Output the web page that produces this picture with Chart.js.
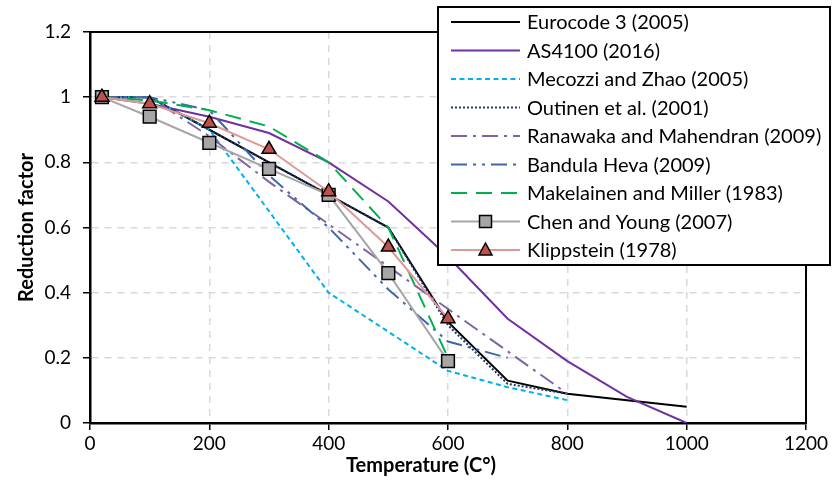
<!DOCTYPE html>
<html>
<head>
<meta charset="utf-8">
<script src="https://cdn.jsdelivr.net/npm/chart.js@4.4.1/dist/chart.umd.min.js"></script>
<style>
    html, body { margin: 0; padding: 0; background: #fff; }
</style>
</head>
<body>
<canvas id="grafica" width="839" height="482"></canvas>
<script>
// temperatures (°C) tested by each source
const tempsTo1000 = [20, 100, 200, 300, 400, 500, 600, 700, 800, 900, 1000];
const tempsTo800 = [20, 100, 200, 300, 400, 500, 600, 700, 800];
const tempsTo700 = [20, 100, 200, 300, 400, 500, 600, 700];
const tempsTo600 = [20, 100, 200, 300, 400, 500, 600];

// reduction factors
const eurocode = [1, 1, 0.9, 0.8, 0.7, 0.6, 0.31, 0.13, 0.09, 0.07, 0.05];
const as4100 = [1, 0.98, 0.94, 0.89, 0.8, 0.68, 0.51, 0.32, 0.19, 0.08, 0];
const mecozzi = [1, 1, 0.9, 0.65, 0.4, 0.28, 0.16, 0.11, 0.07];
const outinen = [1, 1, 0.9, 0.8, 0.7, 0.6, 0.3, 0.12, 0.09];
const ranawaka = [1, 1, 0.88, 0.74, 0.61, 0.48, 0.35, 0.22, 0.09];
const bandula = [1, 1, 0.96, 0.76, 0.6, 0.41, 0.25, 0.2];
const makelainen = [1, 0.99, 0.96, 0.91, 0.8, 0.6, 0.2];
const chenYoung = [1, 0.94, 0.86, 0.78, 0.7, 0.46, 0.19];
const klippstein = [1, 0.98, 0.92, 0.84, 0.71, 0.54, 0.32];

const xMin = 0, xMax = 1200, xStep = 200;
const yMin = 0, yMax = 1.2, yStep = 0.2;

const pts = (xs, ys) => ys.map((v, i) => ({x: xs[i], y: v}));

const line = (label, xs, ys, color, dash) => ({
    label: label,
    data: pts(xs, ys),
    borderColor: color,
    backgroundColor: color,
    borderWidth: 2,
    borderDash: dash,
    pointRadius: 0,
    fill: false,
    tension: 0
});

const dataset1 = line("Eurocode 3 (2005)", tempsTo1000, eurocode, '#000000', []);
const dataset2 = line("AS4100 (2016)", tempsTo1000, as4100, '#7030A0', []);
const dataset3 = line("Mecozzi and Zhao (2005)", tempsTo800, mecozzi, '#00B0F0', [5, 3.5]);
const dataset4 = line("Outinen et al. (2001)", tempsTo800, outinen, '#1F3864', [2, 2]);
const dataset5 = line("Ranawaka and Mahendran (2009)", tempsTo800, ranawaka, '#8064A2', [16, 6, 3, 6]);
const dataset6 = line("Bandula Heva (2009)", tempsTo700, bandula, '#3F67A8', [16, 6, 3, 6, 3, 6]);
const dataset7 = line("Makelainen and Miller (1983)", tempsTo600, makelainen, '#00B050', [16, 9]);

const dataset8 = line("Chen and Young (2007)", tempsTo600, chenYoung, '#A6A6A6', []);
dataset8.pointStyle = 'rect';
dataset8.pointRadius = 9;
dataset8.pointBackgroundColor = '#A6A6A6';
dataset8.pointBorderColor = '#000000';
dataset8.pointBorderWidth = 1.5;

const dataset9 = line("Klippstein (1978)", tempsTo600, klippstein, '#DE9A98', []);
dataset9.pointStyle = 'triangle';
dataset9.pointRadius = 8;
dataset9.pointBackgroundColor = '#C0504D';
dataset9.pointBorderColor = '#000000';
dataset9.pointBorderWidth = 1.5;

const datasets = [dataset1, dataset2, dataset3, dataset4, dataset5, dataset6, dataset7, dataset8, dataset9];
// later series sit on top, like the spreadsheet drew them
datasets.forEach((ds, i) => { ds.order = datasets.length - i; });

const FONT = 'Lato, "Open Sans", sans-serif';

// black box round the plot area
const plotFrame = {
    id: 'plotFrame',
    beforeDatasetsDraw(chart) {
        const {ctx, chartArea: a} = chart;
        ctx.save();
        ctx.lineWidth = 2;
        ctx.strokeStyle = '#000';
        ctx.strokeRect(a.left, a.top, a.right - a.left, a.bottom - a.top);
        ctx.restore();
    }
};

const axisTitles = {
    id: 'axisTitles',
    afterDraw(chart) {
        const {ctx, chartArea: a} = chart;
        ctx.save();
        ctx.font = 'bold 20px ' + FONT;
        ctx.fillStyle = '#000';
        ctx.textAlign = 'center';
        ctx.textBaseline = 'middle';
        ctx.fillText('Temperature (C°)', a.left + 331, a.bottom + 43);
        ctx.translate(27, (a.top + a.bottom) / 2);
        ctx.rotate(-Math.PI / 2);
        ctx.fillText('Reduction factor', 0, 0);
        ctx.restore();
    }
};

// boxed legend in the top right corner, drawn over the plot
const boxLegend = {
    id: 'boxLegend',
    afterDraw(chart) {
        const ctx = chart.ctx;
        const bx = 438, by = 7, bw = 392, bh = 258;
        ctx.save();
        ctx.fillStyle = '#fff';
        ctx.fillRect(bx, by, bw, bh);
        ctx.lineWidth = 2;
        ctx.strokeStyle = '#000';
        ctx.strokeRect(bx, by, bw, bh);

        ctx.font = '20px ' + FONT;
        ctx.textBaseline = 'middle';
        ctx.textAlign = 'left';
        chart.data.datasets.forEach((ds, i) => {
            const y = by + 15 + i * 28.5;
            ctx.setLineDash(ds.borderDash || []);
            ctx.lineWidth = ds.borderWidth;
            ctx.strokeStyle = ds.borderColor;
            ctx.beginPath();
            ctx.moveTo(451, y);
            ctx.lineTo(520, y);
            ctx.stroke();
            ctx.setLineDash([]);

            const mx = 485.5;
            if (ds.pointStyle === 'rect') {
                ctx.fillStyle = ds.pointBackgroundColor;
                ctx.strokeStyle = ds.pointBorderColor;
                ctx.lineWidth = 1.5;
                ctx.fillRect(mx - 6, y - 6, 12, 12);
                ctx.strokeRect(mx - 6, y - 6, 12, 12);
            } else if (ds.pointStyle === 'triangle') {
                ctx.fillStyle = ds.pointBackgroundColor;
                ctx.strokeStyle = ds.pointBorderColor;
                ctx.lineWidth = 1.5;
                ctx.beginPath();
                ctx.moveTo(mx, y - 7);
                ctx.lineTo(mx + 6.5, y + 5);
                ctx.lineTo(mx - 6.5, y + 5);
                ctx.closePath();
                ctx.fill();
                ctx.stroke();
            }
            ctx.fillStyle = '#000';
            ctx.fillText(ds.label, 527, y + 1);
        });
        ctx.restore();
    }
};

const graph = document.querySelector("#grafica");

const config = {
    type: 'line',
    data: { datasets: datasets },
    options: {
        responsive: false,
        animation: false,
        devicePixelRatio: 1,
        layout: { padding: { top: 32, right: 33, bottom: 0, left: 0 } },
        plugins: {
            legend: { display: false },
            tooltip: { enabled: false }
        },
        scales: {
            x: {
                type: 'linear',
                min: xMin,
                max: xMax,
                afterFit: s => { s.height = 59; },
                ticks: {
                    stepSize: xStep,
                    padding: 2,
                    color: '#000',
                    font: { family: FONT, size: 19 },
                    maxRotation: 0,
                    callback: v => String(v)
                },
                grid: {
                    color: '#D9D9D9',
                    lineWidth: 1.5,
                    tickLength: 7,
                    tickColor: '#000',
                    tickWidth: 1.5,
                    tickBorderDash: []
                },
                border: { display: true, color: '#000', width: 2.5, dash: [7, 6] }
            },
            y: {
                min: yMin,
                max: yMax,
                afterFit: s => { s.width = 90; },
                ticks: {
                    stepSize: yStep,
                    padding: 12,
                    color: '#000',
                    font: { family: FONT, size: 19 },
                    callback: v => String(Math.round(v * 10) / 10)
                },
                grid: {
                    color: '#D9D9D9',
                    lineWidth: 1.5,
                    tickLength: 7,
                    tickColor: '#000',
                    tickWidth: 1.5,
                    tickBorderDash: []
                },
                border: { display: true, color: '#000', width: 2.5, dash: [7, 6] }
            }
        }
    },
    plugins: [plotFrame, axisTitles, boxLegend]
};

new Chart(graph, config);
</script>
</body>
</html>
